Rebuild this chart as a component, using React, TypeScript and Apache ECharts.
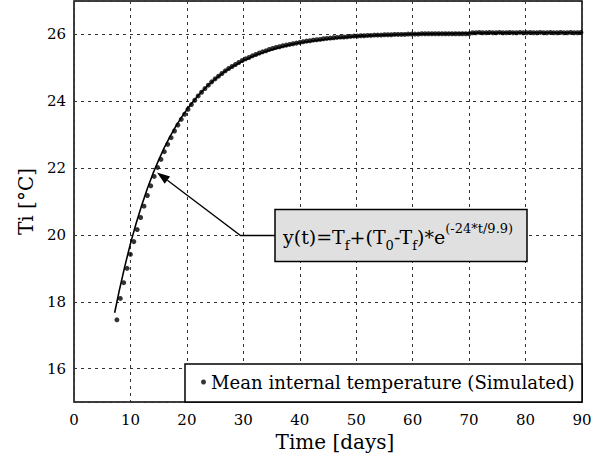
import React, { useEffect, useRef } from "react";
import * as echarts from "echarts";

const FONT = "DejaVu Serif";

// Simulated mean internal temperature (dots)
const dotTimes = [
  7.6, 8.2, 8.8, 9.4, 10.0, 10.6, 11.2, 11.8, 12.4, 13.0,
  13.6, 14.2, 14.8, 15.4, 16.0, 16.6, 17.2, 17.8, 18.4, 19.0,
  19.6, 20.2, 20.8, 21.4, 22.0, 22.6, 23.2, 23.8, 24.4, 25.0,
  25.6, 26.2, 26.8, 27.4, 28.0, 28.6, 29.2, 29.8, 30.4, 31.0,
  31.6, 32.2, 32.8, 33.4, 34.0, 34.6, 35.2, 35.8, 36.4, 37.0,
  37.6, 38.2, 38.8, 39.4, 40.0, 40.6, 41.2, 41.8, 42.4, 43.0,
  43.6, 44.2, 44.8, 45.4, 46.0, 46.6, 47.2, 47.8, 48.4, 49.0,
  49.6, 50.2, 50.8, 51.4, 52.0, 52.6, 53.2, 53.8, 54.4, 55.0,
  55.6, 56.2, 56.8, 57.4, 58.0, 58.6, 59.2, 59.8, 60.4, 61.0,
  61.6, 62.2, 62.8, 63.4, 64.0, 64.6, 65.2, 65.8, 66.4, 67.0,
  67.6, 68.2, 68.8, 69.4, 70.0, 70.6, 71.2, 71.8, 72.4, 73.0,
  73.6, 74.2, 74.8, 75.4, 76.0, 76.6, 77.2, 77.8, 78.4, 79.0,
  79.6, 80.2, 80.8, 81.4, 82.0, 82.6, 83.2, 83.8, 84.4, 85.0,
  85.6, 86.2, 86.8, 87.4, 88.0, 88.6, 89.2, 89.8,
];
const dotTemps = [
  17.46, 18.10, 18.57, 19.00, 19.42, 19.80, 20.16, 20.52, 20.86, 21.18,
  21.47, 21.75, 22.02, 22.26, 22.49, 22.71, 22.91, 23.11, 23.29, 23.46,
  23.61, 23.76, 23.90, 24.03, 24.16, 24.27, 24.38, 24.48, 24.58, 24.67,
  24.75, 24.83, 24.91, 24.98, 25.04, 25.10, 25.16, 25.22, 25.27, 25.31,
  25.36, 25.40, 25.44, 25.48, 25.51, 25.55, 25.58, 25.61, 25.63, 25.66,
  25.68, 25.70, 25.72, 25.74, 25.76, 25.78, 25.80, 25.81, 25.83, 25.84,
  25.85, 25.87, 25.88, 25.89, 25.90, 25.91, 25.92, 25.92, 25.93, 25.94,
  25.95, 25.95, 25.96, 25.96, 25.97, 25.97, 25.98, 25.98, 25.98, 25.99,
  25.99, 25.99, 26.00, 26.00, 26.00, 26.00, 26.01, 26.01, 26.01, 26.01,
  26.02, 26.02, 26.02, 26.02, 26.02, 26.02, 26.02, 26.02, 26.02, 26.02,
  26.02, 26.02, 26.02, 26.02, 26.02, 26.05, 26.05, 26.06, 26.05, 26.05,
  26.06, 26.05, 26.05, 26.06, 26.05, 26.05, 26.06, 26.05, 26.05, 26.06,
  26.05, 26.05, 26.06, 26.05, 26.05, 26.06, 26.05, 26.05, 26.06, 26.05,
  26.05, 26.06, 26.05, 26.05, 26.06, 26.05, 26.05, 26.06,
];

// Fitted exponential curve (solid line)
const fitTimes = [
  7.2, 8, 9, 10, 11, 12, 13, 14, 15, 16, 17, 18, 19, 20, 21, 22, 23, 24, 25,
  26, 27, 28, 29, 30, 32, 34, 36, 38, 40, 43, 46, 50, 55, 60, 70, 80, 90,
];
const fitTemps = [
  17.67, 18.32, 19.06, 19.74, 20.34, 20.89, 21.39, 21.84, 22.24, 22.61, 22.94,
  23.24, 23.51, 23.75, 23.97, 24.17, 24.35, 24.52, 24.66, 24.80, 24.92, 25.03,
  25.12, 25.21, 25.37, 25.49, 25.59, 25.68, 25.75, 25.82, 25.88, 25.94, 25.98,
  26.01, 26.04, 26.05, 26.05,
];

const legendName = "Mean internal temperature (Simulated)";
const xName = "Time [days]";
const yName = "Ti [°C]";

// annotation anchors in data space
const arrowTip = [14.7, 21.87];
const arrowElbow = [29.5, 20];

export default function App() {
  const ref = useRef<HTMLDivElement>(null);
  useEffect(() => {
    const chart = echarts.init(ref.current!, null, { renderer: "svg" });
    const grid = {
      show: true,
      left: 74,
      right: 17,
      top: 1,
      bottom: 57,
      borderColor: "#000",
      borderWidth: 1.5,
      backgroundColor: "transparent",
      containLabel: false,
      outerBoundsMode: "none",
    };
    const splitLine = {
      show: true,
      lineStyle: { color: "#333", width: 1, type: [3, 4] },
    };
    const option: any = {
      animation: false,
      backgroundColor: "#fff",
      textStyle: { fontFamily: FONT },
      grid,
      xAxis: {
        type: "value",
        min: 0,
        max: 90,
        interval: 10,
        axisLine: { show: false },
        axisTick: { show: false },
        splitLine,
        axisLabel: { color: "#000", fontFamily: FONT, fontSize: 15, margin: 10 },
        name: xName,
        nameLocation: "middle",
        nameGap: 25,
        nameTextStyle: {
          color: "#000",
          fontFamily: FONT,
          fontSize: 20,
          padding: [0, 0, 0, 14],
        },
      },
      yAxis: {
        type: "value",
        min: 15,
        max: 27,
        splitNumber: 6,
        axisLine: { show: false },
        axisTick: { show: false },
        splitLine,
        axisLabel: {
          color: "#000",
          fontFamily: FONT,
          fontSize: 15,
          margin: 8,
          showMinLabel: false,
          showMaxLabel: false,
        },
        name: yName,
        nameLocation: "middle",
        nameGap: 36,
        nameTextStyle: { color: "#000", fontFamily: FONT, fontSize: 20 },
      },
      legend: {
        data: [legendName],
        left: 185,
        top: 364,
        padding: [9, 10, 8, 16],
        icon: "circle",
        itemWidth: 5,
        itemHeight: 5,
        z: 20,
        textStyle: { color: "#000", fontFamily: FONT, fontSize: 18.1 },
      },
      series: [
        {
          name: "fit",
          type: "line",
          data: fitTimes.map((t, i) => [t, fitTemps[i]]),
          showSymbol: false,
          lineStyle: { color: "#000", width: 1.6 },
          z: 3,
        },
        {
          name: legendName,
          type: "scatter",
          data: dotTimes.map((t, i) => [t, dotTemps[i]]),
          symbol: "circle",
          symbolSize: 5,
          itemStyle: { color: "#000" },
          z: 4,
        },
      ],
    };
    chart.setOption(option);

    const tip = chart.convertToPixel({ gridIndex: 0 }, arrowTip) as number[];
    const elbow = chart.convertToPixel({ gridIndex: 0 }, arrowElbow) as number[];
    const boxX = 275, boxY = 209.5, boxW = 252, boxH = 52;
    const boxMidY = boxY + boxH / 2;
    const dx = tip[0] - elbow[0], dy = tip[1] - elbow[1];
    const len = Math.sqrt(dx * dx + dy * dy);
    const ux = dx / len, uy = dy / len;
    const headL = 13, headW = 4.5;
    const bx = tip[0] - ux * headL, by = tip[1] - uy * headL;
    const px = -uy, py = ux;

    chart.setOption({
      graphic: [
        {
          type: "polyline",
          z: 10,
          shape: { points: [[boxX, boxMidY], [elbow[0], boxMidY], [bx, by]] },
          style: { stroke: "#000", lineWidth: 1.3, fill: "none" },
        },
        {
          type: "polygon",
          z: 10,
          shape: {
            points: [
              [tip[0], tip[1]],
              [bx + px * headW, by + py * headW],
              [bx - px * headW, by - py * headW],
            ],
          },
          style: { fill: "#000" },
        },
        {
          type: "rect",
          z: 10,
          shape: { x: boxX, y: boxY, width: boxW, height: boxH },
          style: { fill: "#e0e0e0", stroke: "#000", lineWidth: 1.5 },
        },
        {
          type: "text",
          z: 11,
          x: boxX + 8,
          y: boxMidY + 1,
          style: {
            text: "{m|y(t)=T}{s|f}{m|+(T}{s|0}{m|-T}{s|f}{m|)*e}{p|(-24*t/9.9)}",
            align: "left",
            verticalAlign: "middle",
            fill: "#000",
            rich: {
              m: { fontFamily: FONT, fontSize: 19, lineHeight: 30, verticalAlign: "middle", fill: "#000" },
              s: { fontFamily: FONT, fontSize: 13, lineHeight: 14, verticalAlign: "bottom", fill: "#000" },
              p: { fontFamily: FONT, fontSize: 13, lineHeight: 14, verticalAlign: "top", fill: "#000" },
            },
          },
        },
        {
          type: "rect",
          z: 10,
          shape: { x: 185, y: 364, width: 397, height: 38 },
          style: { fill: "#fff", stroke: "#000", lineWidth: 1.5 },
        },
      ],
    });

    return () => chart.dispose();
  }, []);
  return (
    <div
      ref={ref}
      style={{ position: "fixed", left: 0, top: 0, width: 599, height: 459 }}
    />
  );
}
